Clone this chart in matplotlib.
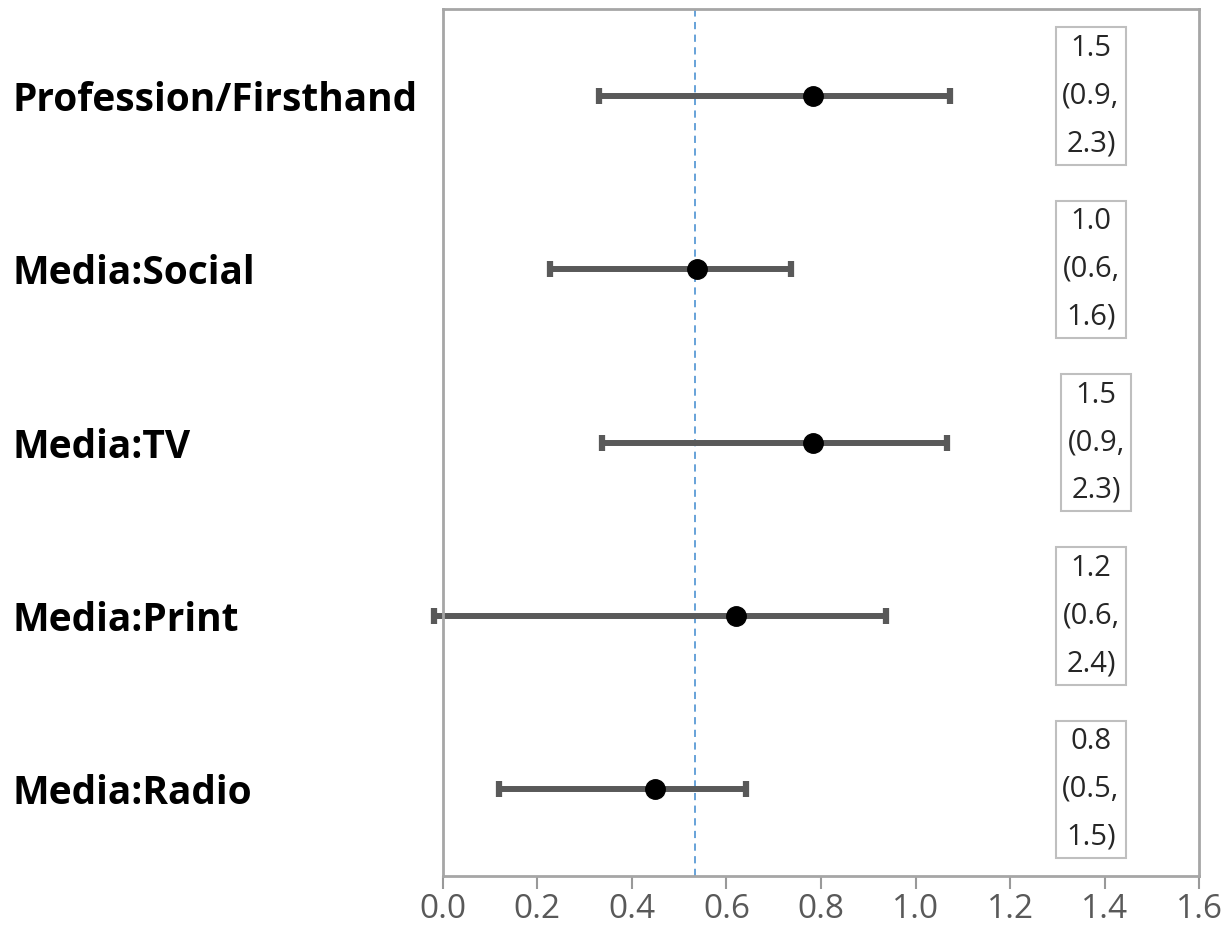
import matplotlib
matplotlib.use("Agg")
from matplotlib import pyplot as plt
from matplotlib import transforms
import numpy as np

# forest plot: point estimates with interval bars, one row per source
labels = ["Profession/Firsthand", "Media:Social", "Media:TV", "Media:Print", "Media:Radio"]
est  = [0.784, 0.538, 0.783, 0.621, 0.448]
low  = [0.330, 0.227, 0.337, -0.018, 0.119]
high = [1.072, 0.736, 1.067, 0.938, 0.641]
ref_x = 0.533

# odds ratio (CI) text shown in the boxes on the right
or_text = ["1.5\n(0.9,\n2.3)", "1.0\n(0.6,\n1.6)", "1.5\n(0.9,\n2.3)",
           "1.2\n(0.6,\n2.4)", "0.8\n(0.5,\n1.5)"]
box_x = [1.371, 1.371, 1.382, 1.371, 1.371]

xticks = np.arange(0, 1.61, 0.2)

plt.rcParams['font.family'] = ['Open Sans', 'DejaVu Sans']

fig = plt.figure(figsize=(12.30, 9.34), dpi=100)
ax = fig.add_axes([0.360, 0.062, 0.615, 0.928])

ypos = np.arange(len(labels))
est = np.array(est)
err = np.array([est - np.array(low), np.array(high) - est])

barcol = '#595959'
eb = ax.errorbar(est, ypos, xerr=err, fmt='none', ecolor=barcol, elinewidth=4.3,
                 capsize=6, capthick=4.5, zorder=2)
for art in eb.lines[1] + eb.lines[2]:
    art.set_clip_on(False)
ax.plot(est, ypos, 'o', color='k', markersize=14, zorder=3)
ax.axvline(ref_x, color='#5B9BD5', linestyle=(0, (4, 3)), linewidth=1.3, zorder=1)

for y, t, bx in zip(ypos, or_text, box_x):
    ax.text(bx, y, t, ha='center', va='center', fontsize=21, color='#262626',
            linespacing=1.85,
            bbox=dict(boxstyle='square,pad=0.22', facecolor='white',
                      edgecolor='#bfbfbf', linewidth=1.5))

# row labels, left aligned at the figure edge
lab_tr = transforms.blended_transform_factory(fig.transFigure, ax.transData)
for y, lab in zip(ypos, labels):
    ax.text(0.010, y, lab, transform=lab_tr, ha='left', va='center_baseline',
            fontsize=28, fontweight='bold', color='k')

ax.set_xlim(0, 1.6)
ax.set_ylim(len(labels) - 0.5, -0.5)
ax.set_xticks(xticks)
ax.set_xticklabels([f"{v:.1f}" for v in xticks])
ax.set_yticks([])
ax.tick_params(axis='x', labelsize=24, labelcolor='#595959', color='#999999',
               length=9, width=1.5, pad=3)

for s in ax.spines.values():
    s.set_color('#a6a6a6')
    s.set_linewidth(2)

fig.savefig("out.png", dpi=100)
